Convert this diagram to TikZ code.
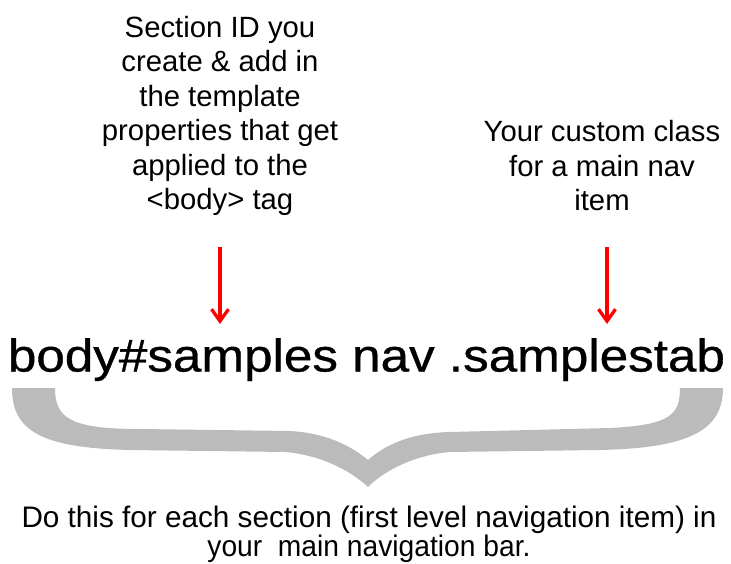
\documentclass[tikz,border=0pt]{standalone}
\usepackage{fontspec}
\setmainfont{Liberation Sans}
\newfontfamily\selfont[FakeBold=0.7]{Liberation Sans}
\usetikzlibrary{arrows.meta}
\definecolor{bracegray}{RGB}{187,187,187}
\definecolor{arrowred}{RGB}{255,0,0}
\begin{document}
\begin{tikzpicture}[x=1pt,y=-1pt,
  lbl/.style={align=center, inner sep=0pt, font=\fontsize{29.3}{34.5}\selectfont},
  mainsel/.style={inner sep=0pt, font=\selfont\fontsize{46}{56}\selectfont},
  foot/.style={align=center, inner sep=0pt, font=\fontsize{29.7}{25}\selectfont},
  redarrow/.style={draw=arrowred, line width=3.3pt, -{Straight Barb[length=12pt,width=17pt]}}]
\useasboundingbox (0,0) rectangle (731,564);
\node[lbl, anchor=base] (sec) at (220,210) {Section ID you\\create \& add in\\the template\\properties that get\\applied to the\\<body> tag};
\node[lbl, anchor=base] (cls) at (602,211) {Your custom class\\for a main nav\\item};
\node[mainsel, anchor=base] (sel) at (366.5,371.5) {\scalebox{1.113}[1]{body\#samples nav .samplestab}};
\coordinate (a1s) at (220,247);
\coordinate (a1e) at (220,324);
\coordinate (a2s) at (607,247);
\coordinate (a2e) at (607,324);
\draw[redarrow] (a1s) -- (a1e);
\draw[redarrow] (a2s) -- (a2e);
\fill[bracegray] (12,388) -- (55,388)
  .. controls (55,418) and (70,429) .. (140,429)
  -- (290,431)
  .. controls (325,433) and (350,445) .. (368,460)
  .. controls (385,445) and (410,433) .. (450,432)
  -- (610,428)
  .. controls (670,425) and (680,415) .. (680,388)
  -- (723,388)
  .. controls (723,430) and (690,448) .. (600,450)
  -- (450,452)
  .. controls (415,455) and (385,470) .. (368,487)
  .. controls (350,470) and (320,455) .. (285,452)
  -- (130,450)
  .. controls (40,448) and (12,430) .. (12,388) -- cycle;
\node[foot, anchor=base] (note) at (369,556) {Do this for each section (first level navigation item) in\\\scalebox{0.95}[1]{your\ \ main navigation bar.}\hspace{18pt}};
\end{tikzpicture}
\end{document}
